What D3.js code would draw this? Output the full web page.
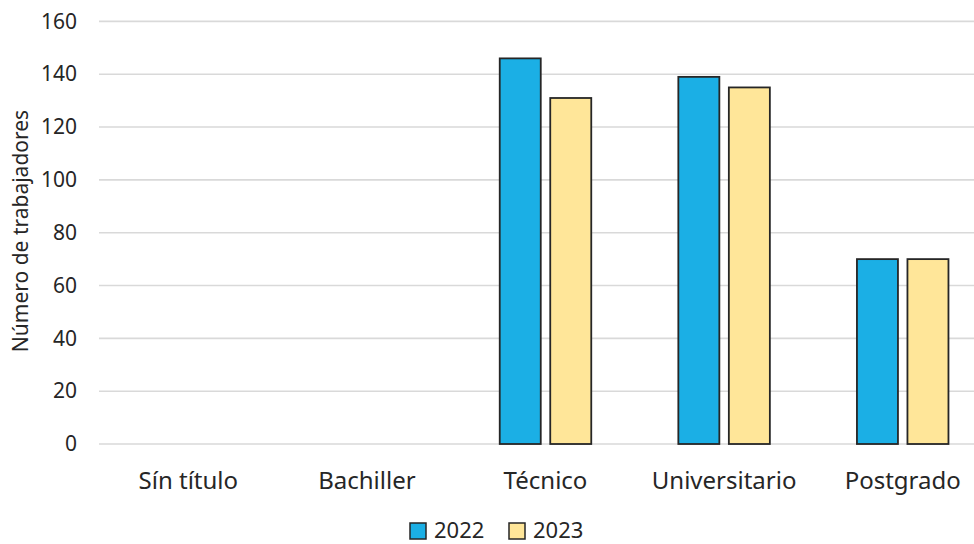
<!DOCTYPE html>
<html><head><meta charset="utf-8">
<script src="https://cdn.jsdelivr.net/npm/d3@7/dist/d3.min.js"></script>
<style>body{margin:0;background:#fff;} svg{display:block;}</style>
</head><body>
<svg id="c" width="974" height="544"></svg>
<script>
const categories = ["Sín título", "Bachiller", "Técnico", "Universitario", "Postgrado"];
const years = ["2022", "2023"];
const values2022 = [0, 0, 146, 139, 70];
const values2023 = [0, 0, 131, 135, 70];
const yTicks = [0, 20, 40, 60, 80, 100, 120, 140, 160];
const colors = {"2022": "#1BAFE5", "2023": "#FFE699"};
const yLabel = "Número de trabajadores";

(function () {
const series = {"2022": values2022, "2023": values2023};
const data = categories.map((c, i) => ({cat: c, vals: years.map(y => ({year: y, v: series[y][i]}))}));

const svg = d3.select("#c");
const font = "'Noto Sans', 'Open Sans', sans-serif";
const mLeft = 99, mRight = 992, mTop = 21.4, mBottom = 444;

const x0 = d3.scaleBand().domain(categories).range([mLeft, mRight]).padding(0);
const x1 = d3.scaleBand().domain(years).range([0, x0.bandwidth()]).paddingInner(0.188).paddingOuter(0.862);
const y = d3.scaleLinear().domain([0, 160]).range([mBottom, mTop]);

// grid
svg.append("g").selectAll("line").data(yTicks).join("line")
  .attr("x1", mLeft).attr("x2", mRight)
  .attr("y1", d => y(d)).attr("y2", d => y(d))
  .attr("stroke", "#d9d9d9").attr("stroke-width", 1.6);

// y axis labels
const yAxis = svg.append("g").attr("transform", `translate(${mLeft},0)`)
  .call(d3.axisLeft(y).tickValues(yTicks).tickSize(0).tickPadding(22));
yAxis.select(".domain").remove();
yAxis.selectAll("text").attr("font-family", font).attr("font-size", 21).attr("fill", "#262626");

// x axis labels
const xAxis = svg.append("g").attr("transform", `translate(0,${mBottom})`)
  .call(d3.axisBottom(x0).tickSize(0).tickPadding(28));
xAxis.select(".domain").remove();
xAxis.selectAll("text").attr("font-family", font).attr("font-size", 24).attr("fill", "#262626");

// bars
const g = svg.append("g").selectAll("g").data(data).join("g")
  .attr("transform", d => `translate(${x0(d.cat)},0)`);
g.selectAll("rect").data(d => d.vals.filter(v => v.v > 0)).join("rect")
  .attr("x", d => x1(d.year))
  .attr("width", x1.bandwidth())
  .attr("y", d => y(d.v))
  .attr("height", d => y(0) - y(d.v))
  .attr("fill", d => colors[d.year])
  .attr("stroke", "#262626").attr("stroke-width", 1.8);

// y label
svg.append("text")
  .attr("transform", `translate(28,231) rotate(-90)`)
  .attr("text-anchor", "middle")
  .attr("font-family", font).attr("font-size", 21).attr("fill", "#262626")
  .text(yLabel);

// legend
const legendX = [410, 509];
const lg = svg.append("g").selectAll("g").data(years).join("g")
  .attr("transform", (d, i) => `translate(${legendX[i]},523)`);
lg.append("rect").attr("width", 16).attr("height", 16)
  .attr("fill", d => colors[d]).attr("stroke", "#262626").attr("stroke-width", 1.5);
lg.append("text").attr("x", 24).attr("y", 15)
  .attr("font-family", font).attr("font-size", 22).attr("fill", "#262626")
  .text(d => d);
})();
</script>
</body></html>
